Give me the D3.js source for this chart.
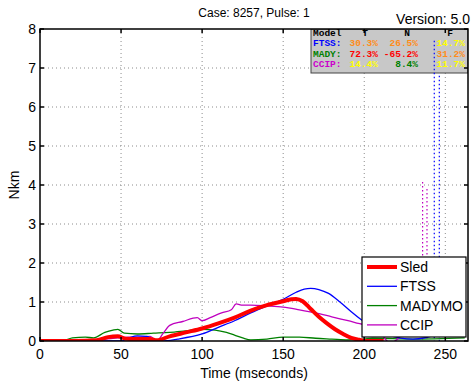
<!DOCTYPE html>
<html><head><meta charset="utf-8">
<script src="https://cdn.jsdelivr.net/npm/d3@7"></script>
<style>body{margin:0;background:#fff}svg{display:block}text{font-family:"Liberation Sans",Arial,sans-serif}</style>
</head><body>
<svg id="c" width="474" height="383"></svg>
<script>
const xTicks = [0,50,100,150,200,250];
const yTicks = [0,1,2,3,4,5,6,7,8];
const seriesNames = ["Sled","FTSS","MADYMO","CCIP"];
const seriesColors = ["#ff0000","#0000ff","#008000","#bf00bf"];

const sledT = [0,20,35,42,48,53,60,68,72,80,90,100,110,120,130,140,150,155,158,162,167,172,177,182,187,192,197,202,212];
const sledV = [0,0,0.02,0.1,0.12,0.06,0.05,0.05,0.02,0.12,0.22,0.32,0.45,0.6,0.78,0.92,1.02,1.07,1.08,1.02,0.82,0.62,0.45,0.3,0.18,0.08,0.03,0,0];
const ftssT = [0,50,55,60,66,70,75,85,100,110,120,130,140,150,158,163,167,172,178,185,192,198,203,215,230,262];
const ftssV = [0,0,0.08,0.13,0.12,0.02,0,0.05,0.18,0.35,0.52,0.72,0.9,1.07,1.25,1.33,1.35,1.32,1.22,1.0,0.75,0.55,0.4,0.15,0.05,0.5];
const madyT = [0,15,20,28,33,40,45,48,52,60,70,80,90,100,108,115,120,125,130,140,150,160,170,180,190,200,205,230,262];
const madyV = [0,0.02,0.08,0.1,0.08,0.22,0.28,0.3,0.2,0.18,0.2,0.22,0.26,0.3,0.28,0.22,0.15,0.08,0.03,0.05,0.1,0.1,0.07,0.05,0.03,0.05,0.07,0.05,0.08];
const ccipT = [0,30,40,48,55,62,68,72,76,80,88,97,100,105,112,118,121,125,130,140,150,160,170,180,190,200,204,210,216,222];
const ccipV = [0,0.02,0.05,0.08,0.1,0.1,0.12,0,0.2,0.4,0.5,0.6,0.52,0.6,0.72,0.8,0.95,0.92,0.92,0.9,0.87,0.8,0.72,0.62,0.52,0.42,0.4,0.2,-0.05,0.1];

// dotted spike markers
const ftssSpikeT = [243.2, 246.3];
const ftssSpikeV = [7.7, 6.8];
const ccipSpikeT = [236, 238.7];
const ccipSpikeV = [4.08, 3.9];

// error table
const tableHeader = ["Model","T","N","F"];
const tableModels = ["FTSS:","MADY:","CCIP:"];
const tableModelColors = ["#0000ff","#008000","#cc00cc"];
const tableT = ["30.3%","72.3%","14.4%"];
const tableN = ["26.5%","-65.2%","8.4%"];
const tableF = ["14.7%","31.2%","11.7%"];
const tableTColors = ["#ff8c1a","#ff0000","#ffff00"];
const tableNColors = ["#ff8c1a","#ff0000","#008000"];
const tableFColors = ["#ffff00","#ff8c1a","#ffff00"];

const svg = d3.select("#c");
const L=40, R=468, T=29, B=341;
const x = d3.scaleLinear().domain([0,264]).range([L,R]);
const y = d3.scaleLinear().domain([0,8]).range([B,T]);

svg.append("defs").append("clipPath").attr("id","clip")
  .append("rect").attr("x",L).attr("y",T).attr("width",R-L).attr("height",B-T);

// grid
const grid = svg.append("g");
grid.selectAll(".gx").data(xTicks.slice(1)).enter().append("line")
  .attr("x1",d=>x(d)).attr("x2",d=>x(d)).attr("y1",T).attr("y2",B)
  .attr("stroke","#8c8c8c").attr("stroke-width",1).attr("stroke-dasharray","1,3");
grid.selectAll(".gy").data(yTicks.slice(1,-1)).enter().append("line")
  .attr("y1",d=>y(d)).attr("y2",d=>y(d)).attr("x1",L).attr("x2",R)
  .attr("stroke","#8c8c8c").attr("stroke-width",1).attr("stroke-dasharray","1,3");

const plot = svg.append("g").attr("clip-path","url(#clip)");

// table
const tb = plot.append("g");
tb.append("rect").attr("x",311).attr("y",T).attr("width",R-311).attr("height",44)
  .attr("fill","#c8c8c8").attr("stroke","#444").attr("stroke-width",1);
const tf = "font-family:'Liberation Mono','Courier New',monospace;font-weight:bold;font-size:9.5px";
const colX = [313,378,418,465];
tb.append("text").attr("x",colX[0]).attr("y",35.5).attr("style",tf).attr("fill","#000").text(tableHeader[0]);
[1,2,3].forEach((c,i)=>{
  tb.append("text").attr("x",[365,407,450][i]).attr("y",35.5).attr("style",tf).attr("text-anchor","middle").attr("fill","#000").text(tableHeader[c]);
});
tableModels.forEach((m,i)=>{
  const by = 46 + i*10.5;
  tb.append("text").attr("x",colX[0]).attr("y",by).attr("style",tf).attr("fill",tableModelColors[i]).text(m);
  tb.append("text").attr("x",colX[1]).attr("y",by).attr("style",tf).attr("text-anchor","end").attr("fill",tableTColors[i]).text(tableT[i]);
  tb.append("text").attr("x",colX[2]).attr("y",by).attr("style",tf).attr("text-anchor","end").attr("fill",tableNColors[i]).text(tableN[i]);
  tb.append("text").attr("x",colX[3]).attr("y",by).attr("style",tf).attr("text-anchor","end").attr("fill",tableFColors[i]).text(tableF[i]);
});

// spikes
const spikes = [[ccipSpikeT,ccipSpikeV,seriesColors[3]],[ftssSpikeT,ftssSpikeV,seriesColors[1]]];
spikes.forEach(([ts,vs,col])=>{
  ts.forEach((t,i)=>{
    plot.append("line").attr("x1",x(t)).attr("x2",x(t)).attr("y1",y(vs[i])).attr("y2",y(0))
      .attr("stroke",col).attr("stroke-width",1.2).attr("stroke-dasharray","1.5,2.5");
  });
});

// curves
const line = d3.line().x(d=>x(d[0])).y(d=>y(d[1])).curve(d3.curveMonotoneX);
const data = [[sledT,sledV],[ftssT,ftssV],[madyT,madyV],[ccipT,ccipV]];
const widths = [4,1.3,1.3,1.3];
[2,3,1,0].forEach(k=>{
  const pts = data[k][0].map((t,i)=>[t,data[k][1][i]]);
  plot.append("path").datum(pts).attr("d",line).attr("fill","none")
    .attr("stroke",seriesColors[k]).attr("stroke-width",widths[k]).attr("stroke-linejoin","round");
});

// axes box and ticks
const ax = svg.append("g");
ax.append("rect").attr("x",L).attr("y",T).attr("width",R-L).attr("height",B-T)
  .attr("fill","none").attr("stroke","#000").attr("stroke-width",1.5);
xTicks.forEach(t=>{
  ax.append("line").attr("x1",x(t)).attr("x2",x(t)).attr("y1",B).attr("y2",B-4).attr("stroke","#000").attr("stroke-width",1.5);
  ax.append("line").attr("x1",x(t)).attr("x2",x(t)).attr("y1",T).attr("y2",T+4).attr("stroke","#000").attr("stroke-width",1.5);
});
yTicks.forEach(t=>{
  ax.append("line").attr("x1",L).attr("x2",L+4).attr("y1",y(t)).attr("y2",y(t)).attr("stroke","#000").attr("stroke-width",1.5);
  ax.append("line").attr("x1",R).attr("x2",R-4).attr("y1",y(t)).attr("y2",y(t)).attr("stroke","#000").attr("stroke-width",1.5);
});
ax.selectAll(".xl").data(xTicks).enter().append("text")
  .attr("x",d=>x(d)).attr("y",B+18).attr("text-anchor","middle").attr("font-size",14).text(d=>d);
ax.selectAll(".yl").data(yTicks).enter().append("text")
  .attr("x",L-4).attr("y",d=>y(d)+5).attr("text-anchor","end").attr("font-size",14).text(d=>d);

svg.append("text").attr("x",254).attr("y",378).attr("text-anchor","middle").attr("font-size",14).text("Time (mseconds)");
svg.append("text").attr("transform","translate(19,185) rotate(-90)").attr("text-anchor","middle").attr("font-size",14).text("Nkm");
svg.append("text").attr("x",254).attr("y",17).attr("text-anchor","middle").attr("font-size",12).text("Case: 8257, Pulse: 1");
svg.append("text").attr("x",470).attr("y",24).attr("text-anchor","end").attr("font-size",14).text("Version: 5.0");

// legend
const lg = svg.append("g");
lg.append("rect").attr("x",362).attr("y",257).attr("width",104).attr("height",80)
  .attr("fill","#fff").attr("stroke","#000").attr("stroke-width",1.2);
seriesNames.forEach((n,i)=>{
  const ly = 267 + i*19.3;
  lg.append("line").attr("x1",367).attr("x2",397).attr("y1",ly).attr("y2",ly)
    .attr("stroke",seriesColors[i]).attr("stroke-width",widths[i]);
  lg.append("text").attr("x",400).attr("y",ly+5).attr("font-size",14).text(n);
});
</script>
</body></html>
